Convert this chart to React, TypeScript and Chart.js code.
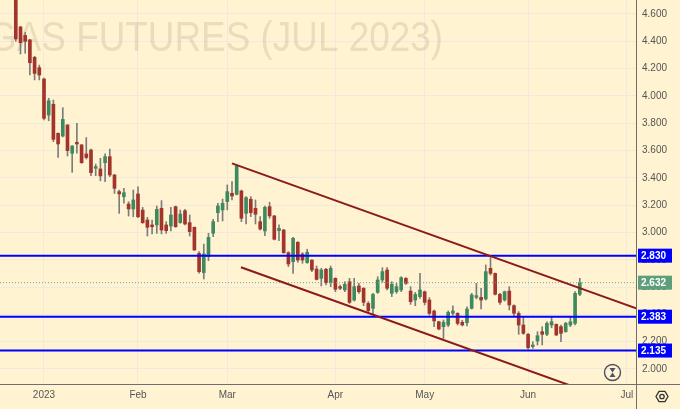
import { useEffect, useRef } from 'react'
import { Chart, registerables } from 'chart.js'

Chart.register(...registerables)

// candles are placed by trading-day index, Jan 3 2023 = 0
const firstBar = -6

const opens = [
  4.80, 4.505, 4.443, 4.41, 4.283, 4.207,
  4.124, 3.860, 3.939, 3.726, 3.706, 3.787, 3.580, 3.66, 3.641, 3.575,
  3.604, 3.470, 3.465, 3.511, 3.555, 3.421, 3.299, 3.262, 3.208, 3.172,
  3.282, 3.164, 3.091, 3.055, 3.055, 3.177, 3.055, 3.047, 3.189, 3.072,
  3.159, 3.072, 3.038, 2.847, 2.706, 2.822, 2.994, 3.145, 3.165, 3.226,
  3.287, 3.279, 3.304, 3.140, 3.243, 3.177, 3.079, 3.011, 3.189, 3.121,
  3.013, 3.018, 2.852, 2.786, 2.928, 2.842, 2.779, 2.798, 2.732, 2.664,
  2.730, 2.632, 2.664, 2.603, 2.579, 2.639, 2.505, 2.608, 2.591, 2.480,
  2.444, 2.561, 2.652, 2.725, 2.554, 2.566, 2.579, 2.664, 2.571, 2.505,
  2.530, 2.566, 2.505, 2.425, 2.346, 2.310, 2.322, 2.408, 2.408, 2.342,
  2.339, 2.444, 2.525, 2.525, 2.513, 2.737, 2.700, 2.547, 2.505, 2.571,
  2.464, 2.408, 2.322, 2.254, 2.164, 2.205, 2.273, 2.254, 2.322, 2.327,
  2.310, 2.273, 2.322, 2.334, 2.547,
]
const highs = [
  4.85, 4.51, 4.465, 4.415, 4.29, 4.226,
  4.13, 3.983, 3.970, 3.73, 3.914, 3.79, 3.636, 3.80, 3.645, 3.695,
  3.61, 3.501, 3.543, 3.575, 3.611, 3.425, 3.31, 3.324, 3.225, 3.311,
  3.335, 3.184, 3.111, 3.091, 3.194, 3.233, 3.079, 3.184, 3.194, 3.164,
  3.169, 3.128, 3.04, 2.859, 2.915, 2.994, 3.096, 3.214, 3.245, 3.348,
  3.372, 3.494, 3.31, 3.262, 3.262, 3.238, 3.116, 3.194, 3.221, 3.125,
  3.055, 3.022, 2.859, 2.964, 2.933, 2.852, 2.877, 2.80, 2.754, 2.737,
  2.737, 2.754, 2.668, 2.615, 2.639, 2.664, 2.664, 2.627, 2.596, 2.493,
  2.554, 2.676, 2.742, 2.742, 2.639, 2.627, 2.676, 2.669, 2.603, 2.561,
  2.700, 2.571, 2.522, 2.432, 2.35, 2.359, 2.425, 2.463, 2.412, 2.356,
  2.456, 2.554, 2.627, 2.591, 2.762, 2.823, 2.703, 2.554, 2.571, 2.603,
  2.469, 2.420, 2.383, 2.261, 2.2, 2.273, 2.310, 2.346, 2.383, 2.33,
  2.322, 2.342, 2.383, 2.566, 2.664,
]
const lows = [
  4.40, 4.307, 4.312, 4.153, 4.117, 4.117,
  3.824, 3.818, 3.665, 3.55, 3.70, 3.56, 3.44, 3.58, 3.506, 3.538,
  3.416, 3.416, 3.378, 3.372, 3.409, 3.286, 3.14, 3.215, 3.12, 3.115,
  3.108, 3.067, 2.974, 2.989, 2.993, 2.989, 2.993, 3.011, 3.037, 3.067,
  3.055, 2.974, 2.867, 2.701, 2.659, 2.793, 2.969, 3.079, 3.084, 3.165,
  3.238, 3.274, 3.079, 3.062, 3.116, 3.062, 3.018, 2.977, 3.104, 2.945,
  2.94, 2.847, 2.75, 2.70, 2.781, 2.774, 2.774, 2.713, 2.652, 2.608,
  2.615, 2.603, 2.566, 2.580, 2.566, 2.48, 2.497, 2.554, 2.463, 2.419,
  2.395, 2.554, 2.635, 2.579, 2.53, 2.554, 2.566, 2.620, 2.473, 2.463,
  2.517, 2.469, 2.395, 2.31, 2.286, 2.224, 2.31, 2.395, 2.322, 2.315,
  2.315, 2.439, 2.513, 2.439, 2.505, 2.688, 2.542, 2.473, 2.497, 2.432,
  2.39, 2.254, 2.254, 2.146, 2.151, 2.176, 2.176, 2.244, 2.302, 2.244,
  2.2, 2.269, 2.31, 2.322, 2.537,
]
const closes = [
  4.417, 4.39, 4.400, 4.243, 4.165, 4.153,
  3.836, 3.965, 3.682, 3.648, 3.828, 3.599, 3.633, 3.648, 3.511, 3.549,
  3.438, 3.482, 3.414, 3.555, 3.421, 3.323, 3.282, 3.291, 3.172, 3.238,
  3.115, 3.071, 3.038, 3.042, 3.169, 3.018, 3.013, 3.128, 3.042, 3.135,
  3.062, 3.006, 2.872, 2.713, 2.842, 2.964, 3.079, 3.194, 3.214, 3.299,
  3.267, 3.487, 3.104, 3.255, 3.145, 3.133, 3.025, 3.184, 3.121, 2.950,
  3.030, 2.852, 2.769, 2.957, 2.798, 2.798, 2.855, 2.725, 2.656, 2.725,
  2.632, 2.737, 2.584, 2.591, 2.620, 2.488, 2.603, 2.566, 2.488, 2.427,
  2.546, 2.652, 2.713, 2.591, 2.620, 2.603, 2.669, 2.627, 2.493, 2.546,
  2.579, 2.488, 2.407, 2.352, 2.293, 2.342, 2.415, 2.425, 2.334, 2.322,
  2.439, 2.542, 2.537, 2.505, 2.713, 2.700, 2.547, 2.488, 2.566, 2.469,
  2.408, 2.322, 2.261, 2.156, 2.176, 2.244, 2.254, 2.334, 2.346, 2.249,
  2.261, 2.334, 2.346, 2.554, 2.632,
]

const monthTicks = [0, 20, 39, 62, 81, 103, 124]
const monthLabels = ['2023', 'Feb', 'Mar', 'Apr', 'May', 'Jun', 'Jul']
const priceTicks = [2.0, 2.2, 2.4, 2.6, 2.8, 3.0, 3.2, 3.4, 3.6, 3.8, 4.0, 4.2, 4.4, 4.6]

const levels = [2.830, 2.383, 2.135]
const lastPrice = 2.632
const upperChannel = [{ x: 40, y: 3.506 }, { x: 126, y: 2.444 }]
const lowerChannel = [{ x: 41.9, y: 2.745 }, { x: 112, y: 1.879 }]

const xMin = -9.36
const xMax = 125.96
const yMin = 1.89
const yMax = 4.7025

const BG = '#fff3d1'
const GRID = '#f1eadc'
const UP = '#3e8a5f'
const DOWN = '#a3342b'

const background = {
  id: 'background',
  beforeDraw(chart: any) {
    const { ctx, width, height } = chart
    ctx.save()
    ctx.fillStyle = BG
    ctx.fillRect(0, 0, width, height)
    ctx.restore()
  },
}

const watermark = {
  id: 'watermark',
  beforeDatasetsDraw(chart: any) {
    const { ctx, chartArea } = chart
    const text = 'GAS FUTURES (JUL 2023)'
    ctx.save()
    ctx.beginPath()
    ctx.rect(chartArea.left, chartArea.top, chartArea.right - chartArea.left, chartArea.bottom - chartArea.top)
    ctx.clip()
    ctx.font = '42px "Liberation Sans"'
    ctx.fillStyle = 'rgba(120, 105, 80, 0.16)'
    ctx.textBaseline = 'middle'
    const w = ctx.measureText(text).width
    ctx.translate(-12, 39)
    ctx.scale(455 / w, 1)
    ctx.fillText(text, 0, 0)
    ctx.restore()
  },
}

const overlay = {
  id: 'overlay',
  afterDraw(chart: any) {
    const { ctx, chartArea, width, height } = chart
    const y = chart.scales.y
    ctx.save()
    // axis frame running into the corner
    ctx.strokeStyle = '#6f6f6f'
    ctx.lineWidth = 1
    ctx.beginPath()
    ctx.moveTo(chartArea.right + 0.5, 0)
    ctx.lineTo(chartArea.right + 0.5, height)
    ctx.moveTo(0, chartArea.bottom + 0.5)
    ctx.lineTo(width, chartArea.bottom + 0.5)
    ctx.stroke()

    const tag = (v: number, fill: string) => {
      const py = y.getPixelForValue(v)
      ctx.fillStyle = fill
      ctx.fillRect(chartArea.right + 2, py - 7, 34, 14)
      ctx.fillStyle = '#ffffff'
      ctx.font = 'bold 10px "Liberation Sans"'
      ctx.textBaseline = 'middle'
      ctx.textAlign = 'left'
      ctx.fillText(v.toFixed(3), chartArea.right + 5, py + 0.5)
    }
    tag(lastPrice, '#5f9e7b')
    levels.forEach((v) => tag(v, '#0000ff'))

    // hourglass badge
    const hx = 612.5
    const hy = 372.5
    ctx.strokeStyle = '#4b5167'
    ctx.lineWidth = 1.4
    ctx.beginPath()
    ctx.arc(hx, hy, 8, 0, Math.PI * 2)
    ctx.stroke()
    ctx.fillStyle = '#4b5167'
    ctx.beginPath()
    ctx.moveTo(hx - 3, hy - 4.5)
    ctx.lineTo(hx + 3, hy - 4.5)
    ctx.lineTo(hx, hy)
    ctx.closePath()
    ctx.moveTo(hx - 3, hy + 4.5)
    ctx.lineTo(hx + 3, hy + 4.5)
    ctx.lineTo(hx, hy)
    ctx.closePath()
    ctx.fill()

    // settings gear
    const gx = 662
    const gy = 396.5
    ctx.strokeStyle = '#333333'
    ctx.lineWidth = 1.3
    ctx.beginPath()
    for (let k = 0; k < 6; k++) {
      const a = (Math.PI / 3) * k
      const px = gx + 6 * Math.cos(a)
      const py = gy + 6 * Math.sin(a)
      if (k === 0) ctx.moveTo(px, py)
      else ctx.lineTo(px, py)
    }
    ctx.closePath()
    ctx.stroke()
    ctx.beginPath()
    ctx.arc(gx, gy, 2.2, 0, Math.PI * 2)
    ctx.stroke()
    ctx.restore()
  },
}

export default function App() {
  const canvasRef = useRef<HTMLCanvasElement>(null)
  const chartRef = useRef<Chart | null>(null)

  useEffect(() => {
    document.body.style.margin = '0'
    if (!canvasRef.current) return
    const ctx = canvasRef.current.getContext('2d')
    if (!ctx) return
    if (chartRef.current) chartRef.current.destroy()

    const idx = opens.map((_, i) => firstBar + i)
    const wicks = idx.map((x, i) => ({
      x,
      y: [Math.min(lows[i], opens[i], closes[i]), Math.max(highs[i], opens[i], closes[i])],
    }))
    const bodies = idx.map((x, i) => ({
      x,
      y: [Math.min(opens[i], closes[i]), Math.max(opens[i], closes[i])],
    }))
    const bodyColors = idx.map((_, i) => (closes[i] >= opens[i] ? UP : DOWN))

    const levelSets = levels.map((v) => ({
      type: 'line' as const,
      data: [{ x: xMin, y: v }, { x: xMax, y: v }],
      borderColor: '#0000ff',
      borderWidth: 2,
      pointRadius: 0,
      order: 0,
    }))

    chartRef.current = new Chart(ctx, {
      type: 'bar',
      data: {
        datasets: [
          {
            type: 'line',
            data: upperChannel,
            borderColor: '#8b1a1a',
            borderWidth: 2,
            pointRadius: 0,
            order: 0,
          },
          {
            type: 'line',
            data: lowerChannel,
            borderColor: '#8b1a1a',
            borderWidth: 2,
            pointRadius: 0,
            order: 0,
          },
          ...levelSets,
          {
            type: 'line',
            data: [{ x: xMin, y: lastPrice }, { x: xMax, y: lastPrice }],
            borderColor: '#6ea486',
            borderWidth: 1,
            borderDash: [1, 2],
            pointRadius: 0,
            order: 0,
          },
          {
            type: 'bar',
            data: bodies as any,
            backgroundColor: bodyColors,
            barThickness: 3,
            minBarLength: 1.5,
            grouped: false,
            order: 1,
          },
          {
            type: 'bar',
            data: wicks as any,
            backgroundColor: '#7c7c7c',
            barThickness: 1,
            grouped: false,
            order: 2,
          },
        ] as any,
      },
      options: {
        responsive: true,
        maintainAspectRatio: false,
        animation: false,
        events: [],
        layout: { padding: 0 },
        plugins: {
          legend: { display: false },
          tooltip: { enabled: false },
        },
        scales: {
          x: {
            type: 'linear',
            min: xMin,
            max: xMax,
            offset: false,
            afterBuildTicks: (scale: any) => {
              scale.ticks = monthTicks.map((value) => ({ value }))
            },
            afterFit: (scale: any) => {
              scale.height = 25
              scale.paddingLeft = 0
              scale.paddingRight = 0
            },
            ticks: {
              autoSkip: false,
              maxRotation: 0,
              padding: 5,
              color: '#555555',
              font: { family: 'Liberation Sans', size: 10 },
              callback: (v: any) => monthLabels[monthTicks.indexOf(Number(v))] ?? '',
            },
            grid: { color: GRID, lineWidth: 1, drawTicks: false, offset: false },
            border: { display: false },
          },
          y: {
            type: 'linear',
            position: 'right',
            min: yMin,
            max: yMax,
            afterBuildTicks: (scale: any) => {
              scale.ticks = priceTicks.map((value) => ({ value }))
            },
            afterFit: (scale: any) => {
              scale.width = 44
              scale.paddingTop = 0
              scale.paddingBottom = 0
            },
            ticks: {
              padding: 6,
              color: '#555555',
              font: { family: 'Liberation Sans', size: 10 },
              callback: (v: any) => Number(v).toFixed(3),
            },
            grid: { color: GRID, lineWidth: 1, drawTicks: false },
            border: { display: false },
          },
        },
      },
      plugins: [background, watermark, overlay],
    })

    return () => {
      if (chartRef.current) {
        chartRef.current.destroy()
        chartRef.current = null
      }
    }
  }, [])

  return (
    <div style={{ width: 680, height: 409, position: 'relative' }}>
      <canvas ref={canvasRef} />
    </div>
  )
}
